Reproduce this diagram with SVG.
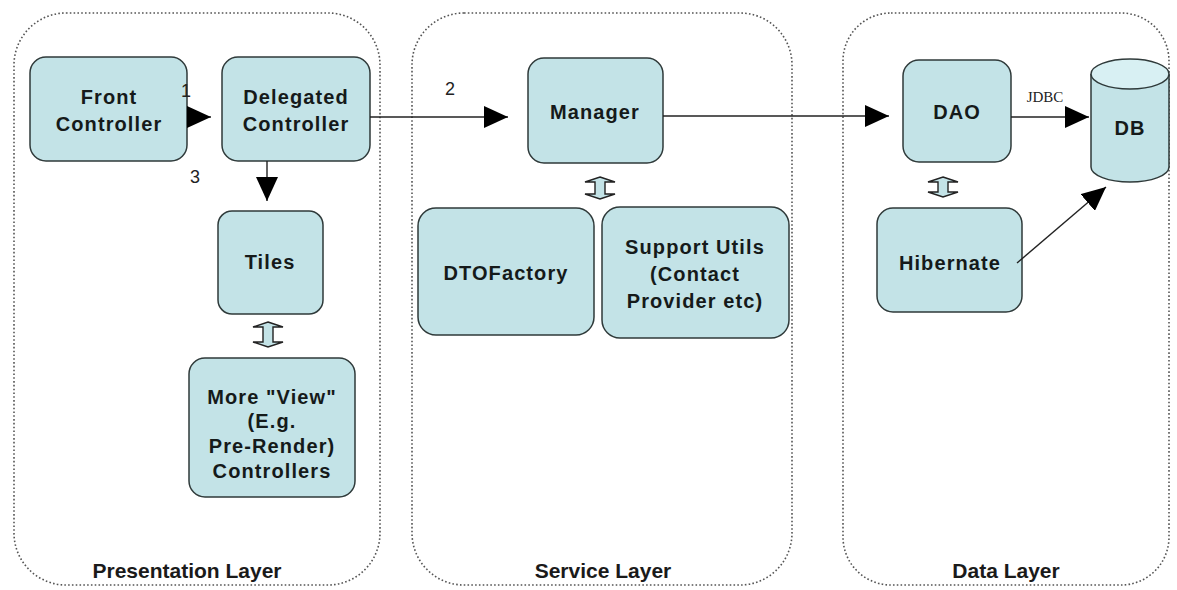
<svg xmlns="http://www.w3.org/2000/svg" width="1177" height="590" viewBox="0 0 1177 590">
  <style>
    .layer { fill: none; stroke: #555; stroke-width: 1.6; stroke-dasharray: 1.6 2.2; }
    .box { fill: #c3e3e7; stroke: #2f3a3a; stroke-width: 1.5; }
    .lbl { font-family: "Liberation Sans", Arial, sans-serif; font-weight: bold; font-size: 20px; fill: #151a1a; text-anchor: middle; letter-spacing: 1.1px; }
    .layer-lbl { font-family: "Liberation Sans", Arial, sans-serif; font-weight: bold; font-size: 21px; fill: #1a1a1a; text-anchor: middle; }
    .num { font-family: "Liberation Sans", Arial, sans-serif; font-size: 18px; fill: #222; text-anchor: middle; }
    .edge { fill: none; stroke: #222; stroke-width: 1.4; }
    .dbl { fill: #c3e3e7; stroke: #222; stroke-width: 1.4; }
  </style>
  <defs>
    <marker id="head" markerUnits="userSpaceOnUse" markerWidth="26" markerHeight="22" refX="24" refY="11" orient="auto">
      <path d="M0,0 L24,11 L0,22 Z" fill="#000"/>
    </marker>
  </defs>

  <rect width="1177" height="590" fill="#fff"/>

  <!-- layer containers -->
  <g id="layers">
    <rect class="layer" x="14" y="13" width="366" height="572" rx="52" ry="52"/>
    <rect class="layer" x="412" y="13" width="380" height="572" rx="52" ry="52"/>
    <rect class="layer" x="843" y="13" width="326" height="572" rx="48" ry="48"/>
    <text class="layer-lbl" x="187" y="578">Presentation Layer</text>
    <text class="layer-lbl" x="603" y="578">Service Layer</text>
    <text class="layer-lbl" x="1006" y="578">Data Layer</text>
  </g>

  <g id="front-controller">
    <rect class="box" x="30" y="57" width="157" height="104" rx="16"/>
    <text class="lbl" x="109" y="104">Front</text>
    <text class="lbl" x="109" y="131">Controller</text>
  </g>
  <g id="delegated-controller">
    <rect class="box" x="222" y="57" width="148" height="104" rx="16"/>
    <text class="lbl" x="296" y="104">Delegated</text>
    <text class="lbl" x="296" y="131">Controller</text>
  </g>
  <g id="tiles">
    <rect class="box" x="218" y="211" width="105" height="103" rx="14"/>
    <text class="lbl" x="270" y="269">Tiles</text>
  </g>
  <g id="view-controllers">
    <rect class="box" x="189" y="358" width="166" height="139" rx="16"/>
    <text class="lbl" x="272" y="404">More "View"</text>
    <text class="lbl" x="272" y="428">(E.g.</text>
    <text class="lbl" x="272" y="453">Pre-Render)</text>
    <text class="lbl" x="272" y="478">Controllers</text>
  </g>
  <g id="manager">
    <rect class="box" x="528" y="58" width="135" height="105" rx="16"/>
    <text class="lbl" x="595" y="119">Manager</text>
  </g>
  <g id="dto-factory">
    <rect class="box" x="418" y="208" width="176" height="127" rx="18"/>
    <text class="lbl" x="506" y="280">DTOFactory</text>
  </g>
  <g id="support-utils">
    <rect class="box" x="602" y="207" width="187" height="131" rx="18"/>
    <text class="lbl" x="695" y="254">Support Utils</text>
    <text class="lbl" x="695" y="281">(Contact</text>
    <text class="lbl" x="695" y="308">Provider etc)</text>
  </g>
  <g id="dao">
    <rect class="box" x="903" y="60" width="108" height="102" rx="16"/>
    <text class="lbl" x="957" y="119">DAO</text>
  </g>
  <g id="hibernate">
    <rect class="box" x="877" y="208" width="145" height="104" rx="16"/>
    <text class="lbl" x="950" y="270">Hibernate</text>
  </g>
  <g id="db">
    <path class="box" d="M1091,74 L1091,167 A39,15 0 0 0 1169,167 L1169,74"/>
    <ellipse cx="1130" cy="74" rx="39" ry="15" fill="#d8f0f3" stroke="#2f3a3a" stroke-width="1.5"/>
    <text class="lbl" x="1130" y="135">DB</text>
  </g>

  <!-- connectors, drawn over the boxes so the step numbers stay visible -->
  <g id="connectors">
    <path class="edge" d="M187,117 L211,117" marker-end="url(#head)"/>
    <path class="edge" d="M267,161 L267,201" marker-end="url(#head)"/>
    <path class="edge" d="M370,117 L508,117" marker-end="url(#head)"/>
    <path class="edge" d="M663,116 L889,116" marker-end="url(#head)"/>
    <path class="edge" d="M1011,117 L1089,117" marker-end="url(#head)"/>
    <path class="edge" d="M1017,263 L1106,187" marker-end="url(#head)"/>
    <text class="num" x="186" y="97">1</text>
    <text class="num" x="195" y="183">3</text>
    <text class="num" x="450" y="95">2</text>
    <text x="1045" y="102" font-family="'Liberation Serif', 'Times New Roman', serif" font-size="15" fill="#222" text-anchor="middle">JDBC</text>
    <!-- two-way block arrows -->
    <path class="dbl" d="M268,322 L283,327 L273,327 L273,342 L283,342 L268,347 L253,342 L263,342 L263,327 L253,327 Z"/>
    <path class="dbl" d="M600,177 L615,182 L605,182 L605,194 L615,194 L600,199 L585,194 L595,194 L595,182 L585,182 Z"/>
    <path class="dbl" d="M943,177 L958,182 L948,182 L948,192 L958,192 L943,197 L928,192 L938,192 L938,182 L928,182 Z"/>
  </g>
</svg>
